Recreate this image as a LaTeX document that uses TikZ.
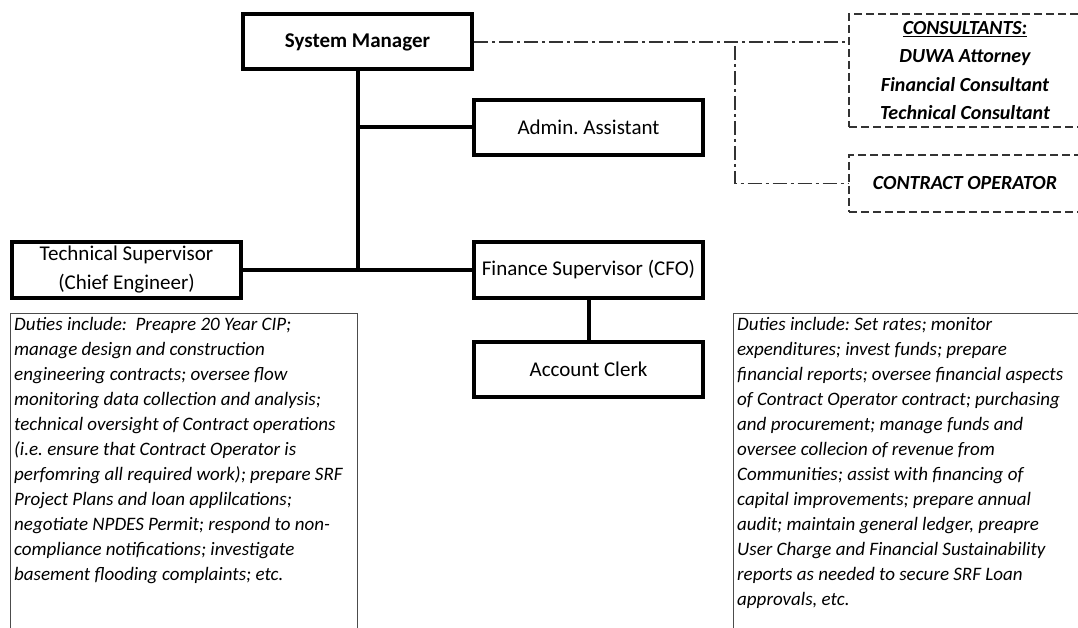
\documentclass[tikz,border=0pt]{standalone}
\usepackage{fontspec}
\setmainfont{Carlito}
\frenchspacing
\usetikzlibrary{positioning}
\tikzset{
  post/.style={draw, line width=4pt, minimum width=229pt, minimum height=55pt, inner sep=2pt,
    align=center, font=\fontsize{21}{29}\selectfont},
  tie/.style={line width=4pt},
  outside/.style={draw=black!80, line width=1.3pt, dash pattern=on 8pt off 4pt, align=center,
    font=\fontsize{20}{28.3}\selectfont\bfseries\itshape},
  dotline/.style={black!80, line width=1.3pt, dash pattern=on 14pt off 4pt on 3pt off 4pt},
  dutyframe/.style={draw=black!70, line width=1.3pt, anchor=north west},
  dutytext/.style={anchor=north west, inner sep=4pt, align=left, font=\fontsize{19}{25}\selectfont\itshape},
}
\begin{document}
\begin{tikzpicture}[x=1pt, y=-1pt]
  \useasboundingbox (0,0) rectangle (1078,628);

  % staff
  \node[post, font=\fontsize{21}{29}\selectfont\bfseries] (sm) at (357.5,42) {System Manager};
  \node[post] (admin) at (588.5,127.5) {Admin. Assistant};
  \node[post, text depth=4pt] (tech) at (126.5,270) {Technical Supervisor\\(Chief Engineer)};
  \node[post] (fin) at (588.5,270) {Finance Supervisor (CFO)};
  \node[post] (clerk) at (588.5,369) {Account Clerk};

  % outside help
  \node[outside, minimum width=232pt, minimum height=113pt] (cons) at (965,70.5)
    {\underline{CONSULTANTS:}\\DUWA Attorney\\Financial Consultant\\Technical Consultant};
  \node[outside, minimum width=232pt, minimum height=57pt] (contract) at (965,183.5)
    {CONTRACT OPERATOR};

  % duties
  \node[dutyframe, minimum width=347pt, minimum height=320pt] (techframe) at (10,313) {};
  \node[dutytext] (techduties) at (techframe.north west)
    {Duties include:\ \ Preapre 20 Year CIP;\\
     manage design and construction\\
     engineering contracts; oversee flow\\
     monitoring data collection and analysis;\\
     technical oversight of Contract operations\\
     (i.e. ensure that Contract Operator is\\
     perfomring all required work); prepare SRF\\
     Project Plans and loan applilcations;\\
     negotiate NPDES Permit; respond to non-\\
     compliance notifications; investigate\\
     basement flooding complaints; etc.};
  \node[dutyframe, minimum width=355pt, minimum height=320pt] (finframe) at (733,313) {};
  \node[dutytext] (finduties) at (finframe.north west)
    {Duties include: Set rates; monitor\\
     expenditures; invest funds; prepare\\
     financial reports; oversee financial aspects\\
     of Contract Operator contract; purchasing\\
     and procurement; manage funds and\\
     oversee collecion of revenue from\\
     Communities; assist with financing of\\
     capital improvements; prepare annual\\
     audit; maintain general ledger, preapre\\
     User Charge and Financial Sustainability\\
     reports as needed to secure SRF Loan\\
     approvals, etc.};

  % reporting lines
  \draw[tie] (sm.south) -- (sm.south |- tech.east);
  \draw[tie] (admin.west) -- (admin.west -| sm.south);
  \draw[tie] (tech.east) -- (fin.west);
  \draw[tie] (fin.south) -- (clerk.north);

  \coordinate (split) at (735,46);
  \draw[dotline] (sm.east) -- (sm.east -| cons.west);
  \draw[dotline] (split) |- (contract.west);
\end{tikzpicture}
\end{document}
